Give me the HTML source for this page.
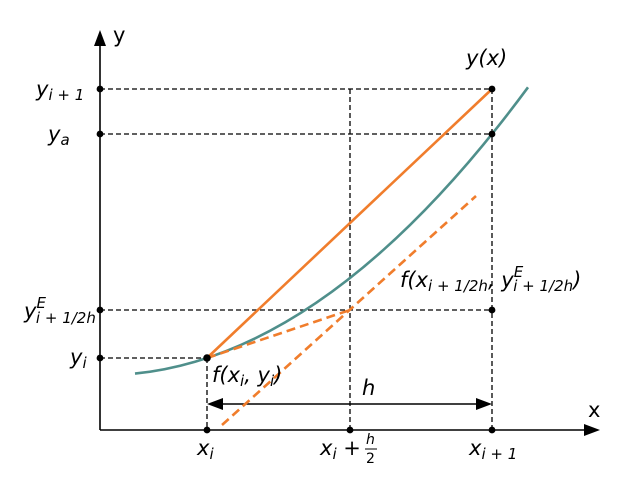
<!DOCTYPE html>
<html><head><style>body{margin:0;background:#fff}svg{display:block}text{font-family:"DejaVu Sans","Liberation Sans",sans-serif;font-size:21px;fill:#000}.m{font-style:italic}</style></head><body>
<svg width="620" height="500" viewBox="0 0 620 500">
<g stroke="#000" stroke-width="1.3" stroke-dasharray="5,3" fill="none">
<line x1="100" y1="89" x2="492" y2="89"/>
<line x1="100" y1="134" x2="492" y2="134"/>
<line x1="100" y1="310" x2="492" y2="310"/>
<line x1="100" y1="358" x2="207" y2="358"/>
<line x1="207" y1="358" x2="207" y2="430"/>
<line x1="350" y1="89" x2="350" y2="430"/>
<line x1="492" y1="89" x2="492" y2="430"/>
</g>
<line x1="100" y1="430" x2="100" y2="44" stroke="#000" stroke-width="1.6"/>
<polygon points="100,30 94,46 106,46" fill="#000"/>
<line x1="100" y1="430" x2="586" y2="430" stroke="#000" stroke-width="1.6"/>
<polygon points="600,430 584,424 584,436" fill="#000"/>
<line x1="220" y1="404" x2="479" y2="404" stroke="#000" stroke-width="1.4"/>
<polygon points="207,404 223,398 223,410" fill="#000"/>
<polygon points="492,404 476,398 476,410" fill="#000"/>
<path d="M135,373.6 Q331.5,353.6 528,87.3" stroke="#4f8f8b" stroke-width="2.6" fill="none"/>
<line x1="207" y1="358" x2="492" y2="89" stroke="#f07d2c" stroke-width="2.6"/>
<g stroke="#f07d2c" stroke-width="2.6" stroke-dasharray="9,5">
<line x1="207" y1="358" x2="350" y2="310"/>
<line x1="222" y1="425" x2="476" y2="196"/>
</g>
<g fill="#000">
<circle cx="100" cy="89" r="3.4"/><circle cx="100" cy="134" r="3.4"/><circle cx="100" cy="310" r="3.4"/><circle cx="100" cy="358" r="3.4"/>
<circle cx="207" cy="358" r="3.8"/><circle cx="207" cy="430" r="3.4"/><circle cx="350" cy="430" r="3.4"/><circle cx="492" cy="430" r="3.4"/>
<circle cx="492" cy="89" r="3.4"/><circle cx="492" cy="134" r="3.4"/><circle cx="492" cy="310" r="3.4"/>
</g>
<text x="113" y="42">y</text>
<text x="588" y="417">x</text>
<text x="36" y="96" class="m">y<tspan style="font-size:15px" dy="4">i + 1</tspan></text>
<text x="48" y="141" class="m">y<tspan style="font-size:15px" dy="4">a</tspan></text>
<text x="24" y="318" class="m">y<tspan style="font-size:15px" dy="-10">E</tspan><tspan style="font-size:15px" dx="-10" dy="15">i + 1/2h</tspan></text>
<text x="70" y="364" class="m">y<tspan style="font-size:15px" dy="4">i</tspan></text>
<text x="212" y="382" class="m">f(x<tspan style="font-size:15px" dy="4">i</tspan><tspan dy="-4">, y</tspan><tspan style="font-size:15px" dy="4">i</tspan><tspan dy="-4">)</tspan></text>
<text x="400" y="287" class="m">f(x<tspan style="font-size:15px" dy="4">i + 1/2h</tspan><tspan dy="-4">, y</tspan><tspan style="font-size:15px" dy="-10">E</tspan><tspan style="font-size:15px" dx="-10" dy="14">i + 1/2h</tspan><tspan dy="-4">)</tspan></text>
<text x="466" y="65" class="m">y(x)</text>
<text x="362" y="395" class="m">h</text>
<text x="197" y="455" class="m">x<tspan style="font-size:15px" dy="4">i</tspan><tspan dy="-4"></tspan></text>
<text x="320" y="455" class="m">x<tspan style="font-size:15px" dy="4">i</tspan><tspan dy="-4" style="font-style:normal"> + </tspan></text>
<text x="366" y="444" class="m" style="font-size:14px">h</text>
<line x1="365" y1="449" x2="377" y2="449" stroke="#000" stroke-width="1"/>
<text x="366" y="463" style="font-size:14px">2</text>
<text x="469" y="455" class="m">x<tspan style="font-size:15px" dy="4">i + 1</tspan></text>
</svg>
</body></html>
